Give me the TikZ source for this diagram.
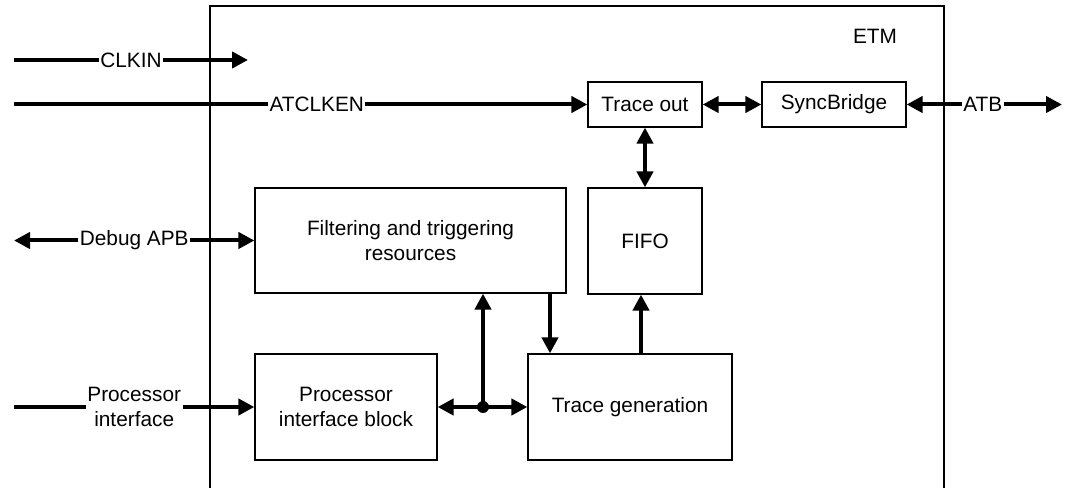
\documentclass[tikz,border=0pt]{standalone}
\usepackage{fontspec}
\setmainfont{Liberation Sans}
\usetikzlibrary{arrows.meta}
\begin{document}
\begin{tikzpicture}[x=1bp,y=-1bp,
  every node/.style={font=\fontsize{20.8bp}{25bp}\selectfont},
  blk/.style={draw, line width=1.2bp, inner sep=0pt, align=center},
  conn/.style={line width=4bp},
  tip/.style={-{Triangle[length=16bp,width=16bp]}},
  tips/.style={{Triangle[length=16bp,width=16bp]}-{Triangle[length=16bp,width=16bp]}},
  lbl/.style={fill=white, inner sep=1.5bp, align=center}]
\useasboundingbox (0,0) rectangle (1071,488);
% ETM container
\draw[line width=1.2bp] (210,495) -- (210,6) -- (944,6) -- (944,495);
\node (etm) at (875,36) {ETM};
% blocks
\node[blk, minimum width=114bp, minimum height=45bp] (tout) at (645,104.5) {Trace out};
\node[blk, minimum width=144bp, minimum height=45bp] (sync) at (834,104.5) {SyncBridge};
\node[blk, minimum width=114bp, minimum height=106bp] (fifo) at (645,241) {FIFO};
\node[blk, minimum width=311bp, minimum height=105bp] (filt) at (410.5,240.5) {Filtering and triggering\\resources};
\node[blk, minimum width=182bp, minimum height=106bp] (pib) at (346,407) {Processor\\interface block};
\node[blk, minimum width=204bp, minimum height=106bp] (tg) at (630,407) {Trace generation};
% external ends
\coordinate (clkA) at (14,60);
\coordinate (clkB) at (248,60);
\coordinate (atcA) at (14,104.5);
\coordinate (apbA) at (14,240.5);
\coordinate (piA) at (14,407);
\coordinate (atbB) at (1062,104.5);
\coordinate (junc) at (483,407);
\coordinate (dn) at (550,0);
\coordinate (up) at (641,0);
% connectors
\draw[conn,tip] (clkA) -- node[lbl,pos=0.5]{CLKIN} (clkB);
\draw[conn,tip] (atcA) -- node[lbl,pos=0.528]{ATCLKEN} (tout.west);
\draw[conn,tips] (apbA) -- node[lbl,pos=0.5]{Debug APB} (filt.west);
\draw[conn,tip] (piA) -- node[lbl,pos=0.5]{Processor\\interface} (pib.west);
\draw[conn,tips] (sync.east) -- node[lbl,pos=0.49]{ATB} (atbB);
\draw[conn,tips] (tout.east) -- (sync.west);
\draw[conn,tips] (tout.south) -- (fifo.north);
\draw[conn,tip] (junc) -- (pib.east);
\draw[conn,tip] (junc) -- (tg.west);
\draw[conn,tip] (junc) -- (junc |- filt.south);
\draw[conn,tip] (dn |- filt.south) -- (dn |- tg.north);
\draw[conn,tip] (up |- tg.north) -- (up |- fifo.south);
\fill (junc) circle (6bp);
\end{tikzpicture}
\end{document}
